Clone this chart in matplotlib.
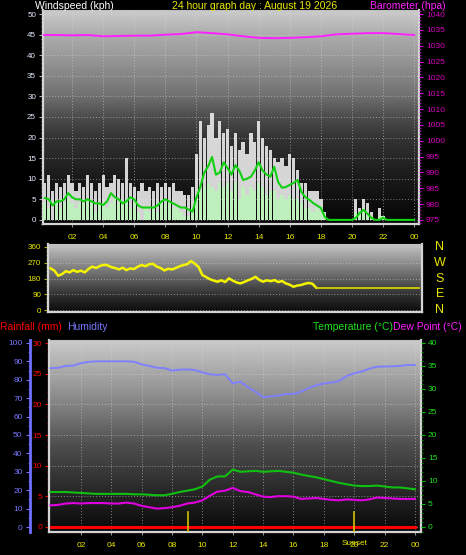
import numpy as np
import matplotlib
matplotlib.use("Agg")
import matplotlib.pyplot as plt
import matplotlib.transforms as mtransforms
from matplotlib.colors import LinearSegmentedColormap
from matplotlib.ticker import MultipleLocator

plt.rcParams['font.family'] = ['Liberation Sans', 'DejaVu Sans']

# wind (kph), 15 minute samples
wind_hours = np.arange(0.25, 24.01, 0.25)
wind_gust = [9, 11, 7, 9, 8, 9, 11, 9, 7, 9, 8, 11, 9, 7, 9, 11,
             8, 9, 11, 10, 9, 15, 9, 8, 7, 9, 7, 8, 7, 9, 8, 9,
             8, 9, 7, 7, 6, 6, 8, 16, 24, 20, 23, 26, 20, 24, 21, 22,
             18, 21, 17, 19, 16, 21, 19, 24, 20, 18, 17, 15, 14, 15, 13, 16,
             15, 12, 9, 9, 7, 7, 7, 5, 2, 0, 0, 0, 0, 0, 0, 0,
             5, 3, 5, 4, 2, 0, 3, 1, 0, 0, 0, 0, 0, 0, 0, 0]
wind_speed = [4, 3, 0, 4, 3, 4, 5, 4, 3, 4, 4, 5, 4, 2, 4, 4,
              3, 4, 5, 4, 4, 5, 3, 4, 2, 0, 3, 2, 3, 2, 4, 4,
              4, 3, 3, 2, 1, 1, 3, 5, 7, 8, 9, 8, 7, 9, 8, 9,
              7, 9, 5, 8, 6, 8, 7, 9, 8, 6, 7, 7, 5, 6, 5, 6,
              5, 5, 4, 3, 3, 2, 3, 2, 1, 0, 0, 0, 0, 0, 0, 0,
              2, 2, 3, 1, 1, 0, 1, 1, 0, 0, 0, 0, 0, 0, 0, 0]
wind_avg = [5.3, 5.0, 3.5, 4.5, 4.5, 5.0, 6.5, 5.5, 5.0, 5.0, 4.5, 5.0, 4.5, 4.0, 4.0, 3.6,
            4.5, 6.5, 5.5, 5.0, 4.0, 4.5, 5.5, 5.0, 3.5, 3.0, 3.0, 3.0, 3.0, 3.5, 4.5, 5.0,
            4.5, 4.0, 3.5, 3.0, 3.0, 2.5, 2.0, 5.5, 8.0, 11.5, 13.0, 15.3, 11.0, 11.5, 14.0, 12.6,
            11.0, 13.3, 12.0, 9.7, 10.0, 10.5, 12.0, 14.0, 12.0, 11.0, 10.5, 12.9, 9.2, 7.8, 8.0, 8.5,
            9.0, 9.7, 6.8, 5.5, 4.9, 4.1, 3.5, 2.9, 0.7, 0, 0, 0, 0, 0, 0, 0,
            0.5, 1.7, 2.4, 1.5, 0.5, 0, 0, 0.5, 0, 0, 0, 0, 0, 0, 0, 0]

# barometer (hpa)
baro_hours = [0.2, 1, 2, 3, 4, 5, 6, 7, 8, 9, 10, 11, 12, 13, 14, 15, 16, 17, 18, 19, 20, 21, 22, 23, 24]
baro = [1033.4, 1033.4, 1033.3, 1033.4, 1033.0, 1033.1, 1033.2, 1033.2, 1033.5, 1033.7, 1034.3, 1034.0, 1033.6,
        1033.0, 1032.5, 1032.4, 1032.5, 1032.7, 1033.0, 1033.6, 1033.8, 1034.0, 1034.0, 1033.7, 1033.4]

# wind direction (deg)
dir_hours = list(np.arange(0, 17.51, 0.25)) + [24.3]
wind_dir = [238, 225, 196, 205, 222, 215, 228, 218, 225, 215, 235, 248, 240, 252, 258, 256,
            245, 240, 232, 242, 228, 238, 234, 248, 257, 250, 262, 264, 248, 240, 226, 236,
            232, 240, 250, 257, 262, 280, 265, 246, 200, 188, 176, 168, 162, 170, 160, 181,
            168, 158, 152, 160, 170, 178, 190, 172, 162, 170, 165, 171, 160, 166, 152, 145,
            133, 140, 143, 150, 155, 150, 128, 128]

# temperature / dew point / humidity / rain, half hourly
th_hours = np.arange(0, 24.01, 0.5)
humidity = [86.3, 86.5, 87.5, 87.7, 89.0, 89.7, 90.0, 90.0, 90.0, 90.0, 90.0, 89.8, 88.4, 87.5, 86.5, 86.3,
            85.0, 85.5, 85.6, 85.3, 84.0, 83.0, 82.6, 83.0, 78.0, 79.0, 76.0, 73.5, 70.5, 71.0, 71.4, 72.3,
            72.3, 73.5, 75.5, 77.0, 78.0, 78.5, 79.3, 82.0, 83.5, 84.5, 86.0, 87.1, 87.2, 87.3, 87.5, 88.0, 88.0]
temperature = [7.6, 7.6, 7.6, 7.5, 7.4, 7.3, 7.2, 7.2, 7.2, 7.2, 7.2, 7.1, 7.1, 7.0, 6.9, 6.9,
               7.2, 7.6, 7.9, 8.2, 8.8, 10.3, 11.0, 11.0, 12.5, 12.0, 12.1, 12.2, 12.0, 12.1, 12.2, 12.0,
               11.8, 11.4, 11.1, 10.8, 10.4, 10.0, 9.6, 9.3, 9.0, 8.9, 8.9, 9.0, 8.8, 8.6, 8.6, 8.4, 8.2]
dewpoint = [4.7, 4.8, 5.1, 5.2, 5.1, 5.2, 5.2, 5.2, 5.1, 5.1, 5.3, 5.1, 4.6, 4.3, 4.0, 4.1,
            4.3, 4.6, 5.1, 5.3, 5.8, 6.8, 7.7, 7.9, 8.5, 7.8, 7.6, 7.1, 6.6, 6.5, 6.7, 6.7,
            6.6, 6.1, 6.2, 6.3, 6.1, 5.9, 5.8, 6.0, 5.9, 5.8, 6.0, 6.4, 6.3, 6.2, 6.1, 6.1, 6.1]
rain = [0.0] * 49

hour_ticks = [2, 4, 6, 8, 10, 12, 14, 16, 18, 20, 22, 24]
hour_labels = ['02', '04', '06', '08', '10', '12', '14', '16', '18', '20', '22', '00']
compass = ['N', 'W', 'S', 'E', 'N']
compass_deg = [360, 270, 180, 90, 0]
sunrise = 9.05
sunset = 20.0

YEL = '#e8e800'
GRID = dict(color='#d8d8d8', linestyle=(0, (1, 2)), linewidth=0.7, alpha=0.55)
TFS = 7.5  # title font size


def background(ax, stops):
    cmap = LinearSegmentedColormap.from_list('bg', stops)
    grad = np.linspace(0, 1, 256).reshape(-1, 1)
    ax.imshow(grad, cmap=cmap, aspect='auto', extent=(0, 1, 0, 1), origin='lower',
              transform=ax.transAxes, zorder=0, interpolation='bilinear')


def frame(ax, color='#d4d4d4'):
    for s in ['left', 'bottom', 'right']:
        ax.spines[s].set_color(color)
        ax.spines[s].set_linewidth(1.6)
    ax.spines['top'].set_color('#c0c0c0')
    ax.spines['top'].set_linewidth(0.8)


fig = plt.figure(figsize=(4.66, 5.55), dpi=100, facecolor='black')

# ---------------- wind / barometer ----------------
ax1 = fig.add_axes([43 / 466, 1 - 224 / 555, 376 / 466, 214 / 555])
background(ax1, [(0, '#050505'), (0.2, '#181818'), (0.4, '#333333'), (0.5, '#4c4c4c'),
                 (0.6, '#707070'), (0.75, '#929292'), (0.9, '#b0b0b0'), (1, '#cbcbcb')])
ax1.bar(wind_hours, wind_gust, width=0.21, color='#e6e6e6', alpha=0.92, zorder=2)
ax1.bar(wind_hours, wind_speed, width=0.21, color='#bdf0bd', zorder=3)
ax1.plot(wind_hours, wind_avg, color='#10d010', lw=1.5, zorder=4)
ax1.set_xlim(0.13, 24.31)
ax1.set_ylim(-1, 51)
ax1.set_xticks(hour_ticks)
ax1.set_xticklabels(hour_labels)
ax1.set_yticks(range(0, 51, 5))
ax1.yaxis.set_minor_locator(MultipleLocator(1))
ax1.tick_params(axis='x', colors='#909090', labelcolor=YEL, labelsize=6, length=2, pad=5)
ax1.tick_params(axis='y', which='major', colors='#b0b0b0', labelcolor='#e4ecff', labelsize=5.8, length=3, pad=2)
ax1.tick_params(axis='y', which='minor', colors='#909090', length=1.5)
ax1.grid(True, **GRID)
frame(ax1)

ax1b = ax1.twinx()
ax1b.plot(baro_hours, baro, color='#ff20ff', lw=1.4)
ax1b.set_ylim(975 - 1.3, 975 + 51 * 1.3)
ax1b.set_yticks(range(975, 1041, 5))
ax1b.yaxis.set_minor_locator(MultipleLocator(1))
ax1b.tick_params(axis='y', which='major', colors='#e000e0', labelcolor='#d800c0', labelsize=6, length=3, pad=2)
ax1b.tick_params(axis='y', which='minor', colors='#c000c0', length=1.5)
for s in ax1b.spines.values():
    s.set_visible(False)

fig.text(35 / 466, 1 - 6 / 555, 'Windspeed (kph)', color='white', fontsize=TFS, va='center')
fig.text(172 / 466, 1 - 6 / 555, '24 hour graph day : August 19 2026', color=YEL, fontsize=TFS, va='center')
fig.text(370 / 466, 1 - 6 / 555, 'Barometer (hpa)', color='#ff20ff', fontsize=TFS, va='center')

# ---------------- wind direction ----------------
ax2 = fig.add_axes([48 / 466, 1 - 312 / 555, 374 / 466, 68 / 555])
background(ax2, [(0, '#0a0a0a'), (0.25, '#303030'), (0.5, '#626262'), (0.75, '#939393'), (1, '#c4c4c4')])
ax2.plot(dir_hours[:-1], wind_dir[:-1], color='#f4f400', lw=1.8, zorder=3)
ax2.plot(dir_hours[-2:], wind_dir[-2:], color='#d0d000', lw=1.3, zorder=3)
ax2.set_xlim(-0.17, 24.47)
ax2.set_ylim(-11, 377)
ax2.set_xticks([])
ax2.set_yticks([0, 90, 180, 270, 360])
ax2.yaxis.set_minor_locator(MultipleLocator(22.5))
ax2.tick_params(axis='y', which='major', colors='#b0b000', labelcolor=YEL, labelsize=5.8, length=3, pad=2)
ax2.tick_params(axis='y', which='minor', colors='#a0a000', length=1.5)
ax2.grid(True, axis='y', **GRID)
frame(ax2)
trans = mtransforms.blended_transform_factory(ax2.transAxes, ax2.transData)
for lab, deg in zip(compass, compass_deg):
    ax2.text(1.048, deg, lab, transform=trans, color=YEL, fontsize=9, ha='center', va='center')

# ---------------- rain / humidity / temperature ----------------
ax3 = fig.add_axes([49 / 466, 1 - 532 / 555, 372 / 466, 192 / 555])
background(ax3, [(0, '#080808'), (0.2, '#262626'), (0.45, '#4e4e4e'), (0.6, '#747474'),
                 (0.8, '#a2a2a2'), (1, '#cbcbcb')])
ax3.plot(th_hours, rain, color='#ff0000', lw=2.2, zorder=5)
ax3.set_xlim(-0.1, 24.4)
ax3.set_ylim(-0.82, 30.5)
ax3.set_xticks(hour_ticks)
ax3.set_xticklabels(hour_labels)
ax3.set_yticks(range(0, 31, 5))
ax3.yaxis.set_minor_locator(MultipleLocator(1))
ax3.tick_params(axis='x', colors='#909090', labelcolor=YEL, labelsize=6, length=2, pad=5)
ax3.tick_params(axis='y', which='major', colors='#e00000', labelcolor='#ff0000', labelsize=6, length=3, pad=2)
ax3.tick_params(axis='y', which='minor', colors='#c00000', length=1.5)
ax3.grid(True, **GRID)
frame(ax3)
ax3.axvline(sunrise, ymin=0, ymax=0.105, color='#d0c000', lw=1.2, zorder=6)
ax3.axvline(sunset, ymin=0, ymax=0.105, color='#d0c000', lw=1.2, zorder=6)
ax3.text(sunset, -0.06, 'Sunset', transform=mtransforms.blended_transform_factory(ax3.transData, ax3.transAxes),
         color=YEL, fontsize=6, ha='center', va='center')

ax3h = ax3.twinx()
ax3h.plot(th_hours, humidity, color='#8080ff', lw=1.4)
ax3h.set_ylim(-2.7, 101.6)
ax3h.yaxis.tick_left()
ax3h.set_yticks(range(0, 101, 10))
ax3h.yaxis.set_minor_locator(MultipleLocator(5))
ax3h.tick_params(axis='y', which='major', colors='#7070ff', labelcolor='#7878ff', labelsize=6, length=3, pad=2)
ax3h.tick_params(axis='y', which='minor', colors='#6060e0', length=1.5)
for s in ax3h.spines.values():
    s.set_visible(False)
ax3h.spines['left'].set_visible(True)
ax3h.spines['left'].set_position(('outward', 14))
ax3h.spines['left'].set_color('#7070ff')
ax3h.spines['left'].set_linewidth(2)

ax3t = ax3.twinx()
ax3t.plot(th_hours, temperature, color='#10c010', lw=1.5)
ax3t.plot(th_hours, dewpoint, color='#e000e0', lw=1.5)
ax3t.set_ylim(-1.09, 40.65)
ax3t.set_yticks(range(0, 41, 5))
ax3t.yaxis.set_minor_locator(MultipleLocator(1))
ax3t.tick_params(axis='y', which='major', colors='#00c000', labelcolor='#20e020', labelsize=6, length=3, pad=2)
ax3t.tick_params(axis='y', which='minor', colors='#00a000', length=1.5)
for s in ax3t.spines.values():
    s.set_visible(False)

fig.text(0 / 466, 1 - 327 / 555, 'Rainfall (mm)', color='#ff0000', fontsize=TFS, va='center')
fig.text(67 / 466, 1 - 327 / 555, 'Humidity', color='#7878ff', fontsize=TFS, va='center')
fig.text(313 / 466, 1 - 327 / 555, 'Temperature (°C)', color='#20e020', fontsize=TFS, va='center')
fig.text(393 / 466, 1 - 327 / 555, 'Dew Point (°C)', color='#ff20ff', fontsize=TFS, va='center')

fig.savefig('out.png', dpi=100, facecolor='black')
